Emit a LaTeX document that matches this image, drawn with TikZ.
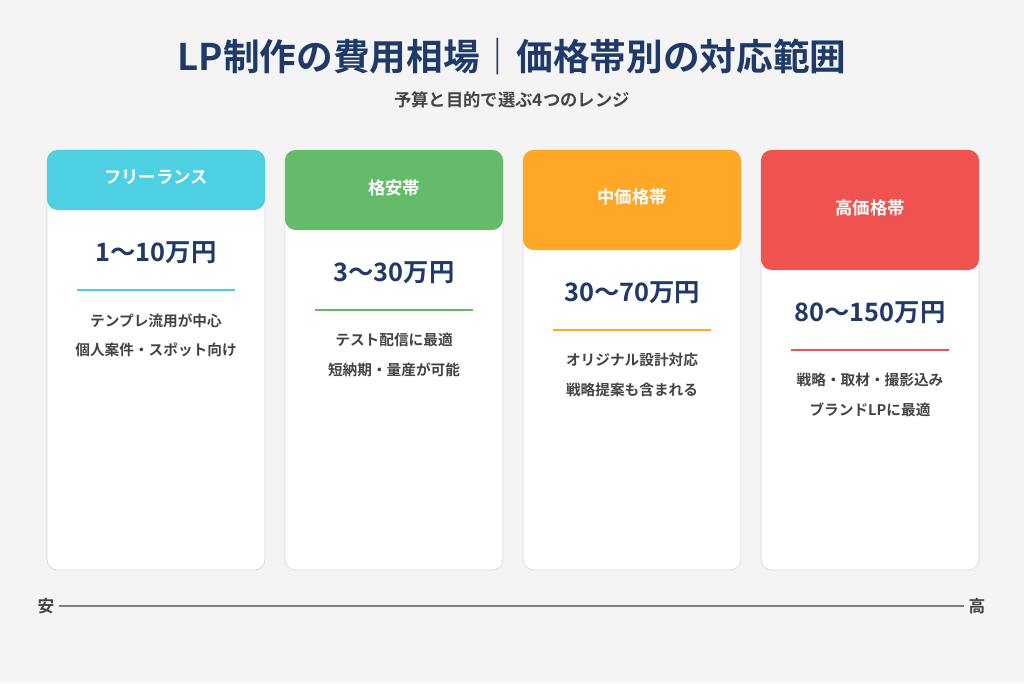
\documentclass[tikz,border=0pt]{standalone}
\usepackage{fontspec}
\newfontfamily\jp{Noto Sans CJK JP}[BoldFont={* Bold}]
\usetikzlibrary{positioning, arrows.meta}
\definecolor{navy}{HTML}{1F3A68}
\definecolor{greytext}{HTML}{444444}
\definecolor{bgcol}{HTML}{F4F4F4}
\definecolor{cyanhd}{HTML}{4DD0E1}
\definecolor{greenhd}{HTML}{66BB6A}
\definecolor{orangehd}{HTML}{FFA726}
\definecolor{redhd}{HTML}{EF5350}
\begin{document}
\begin{tikzpicture}[
  x=0.75pt, y=-0.75pt,
  card/.style={draw=black!15, fill=white, rounded corners=8pt, line width=0.5pt},
  head/.style={rounded corners=8pt},
  headtext/.style={text=white, font=\jp\bfseries\fontsize{13}{15}\selectfont},
  price/.style={text=navy, font=\jp\bfseries\fontsize{19}{22}\selectfont},
  desc/.style={text=greytext, font=\jp\bfseries\fontsize{11}{22}\selectfont, align=center},
  sep/.style={line width=1pt}
]
  \fill[bgcol] (0,0) rectangle (1024,683);

  % Title
  \node[text=navy, font=\jp\bfseries\fontsize{27.5}{32}\selectfont] (title) at (512,57) {LP制作の費用相場｜価格帯別の対応範囲};
  \node[text=greytext, font=\jp\bfseries\fontsize{13}{15}\selectfont] (subtitle) at (512,100) {予算と目的で選ぶ4つのレンジ};

  % Cards
  \draw[card] (47,150) rectangle (265,570);
  \draw[card] (285,150) rectangle (503,570);
  \draw[card] (523,150) rectangle (741,570);
  \draw[card] (761,150) rectangle (979,570);

  % Headers
  \fill[head, cyanhd] (47,150) rectangle (265,210);
  \fill[head, greenhd] (285,150) rectangle (503,230);
  \fill[head, orangehd] (523,150) rectangle (741,250);
  \fill[head, redhd] (761,150) rectangle (979,270);
  \node[headtext] (head1) at (156,177) {フリーランス};
  \node[headtext] (head2) at (394,188) {格安帯};
  \node[headtext] (head3) at (632,197) {中価格帯};
  \node[headtext] (head4) at (870,208) {高価格帯};

  % Prices
  \node[price] (price1) at (156,253) {1〜10万円};
  \node[price] (price2) at (394,273) {3〜30万円};
  \node[price] (price3) at (632,293) {30〜70万円};
  \node[price] (price4) at (870,313) {80〜150万円};

  % Separators
  \draw[sep, cyanhd] (77,290) -- (235,290);
  \draw[sep, greenhd] (315,310) -- (473,310);
  \draw[sep, orangehd] (553,330) -- (711,330);
  \draw[sep, redhd] (791,350) -- (949,350);

  % Descriptions
  \node[desc] (desc1) at (156,335) {テンプレ流用が中心\\個人案件・スポット向け};
  \node[desc] (desc2) at (394,355) {テスト配信に最適\\短納期・量産が可能};
  \node[desc] (desc3) at (632,375) {オリジナル設計対応\\戦略提案も含まれる};
  \node[desc] (desc4) at (870,395) {戦略・取材・撮影込み\\ブランドLPに最適};

  % Axis
  \node[text=greytext, font=\jp\bfseries\fontsize{12.5}{14}\selectfont] (low) at (46,606) {安};
  \node[text=greytext, font=\jp\bfseries\fontsize{12.5}{14}\selectfont] (high) at (977,606) {高};
  \draw[black!50, line width=1pt] (low) -- (high);
\end{tikzpicture}
\end{document}
